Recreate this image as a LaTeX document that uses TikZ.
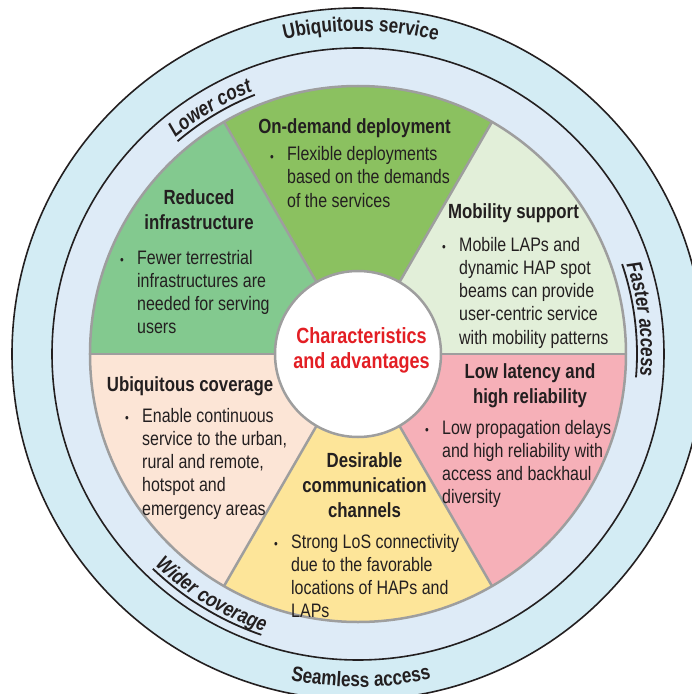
\documentclass[tikz,border=0pt]{standalone}
\usepackage{fontspec}
\usetikzlibrary{decorations.text}
\newfontfamily\narrowfont{Liberation Sans}[FakeStretch=0.82]
\definecolor{ink}{HTML}{231F20}
\definecolor{alarm}{HTML}{E31E24}
\definecolor{pieline}{HTML}{9E9E9E}
\definecolor{ringouter}{HTML}{D3ECF4}
\definecolor{ringinner}{HTML}{DEEBF7}
\definecolor{fillod}{HTML}{8BC160}
\definecolor{fillred}{HTML}{83C98F}
\definecolor{fillmob}{HTML}{E2EFD9}
\definecolor{fillubi}{HTML}{FCE5D6}
\definecolor{filldes}{HTML}{FDE599}
\definecolor{filllow}{HTML}{F6B0B8}

\begin{document}
\begin{tikzpicture}[x=1pt, y=1pt,
ring/.style={draw=ink, line width=1.6pt},
divider/.style={draw=pieline, line width=2.5pt},
hub/.style={circle, fill=white, draw=pieline, line width=2.5pt,
    minimum size=166pt, inner sep=0pt},
hub-text/.style={font=\narrowfont\bfseries\fontsize{22}{25}\selectfont,
    text=alarm, align=center, anchor=north, inner sep=0pt,
    execute at begin node=\strut},
sector-title/.style={font=\narrowfont\bfseries\fontsize{20.5}{25}\selectfont,
    text=ink, align=center, anchor=north, inner sep=0pt,
    execute at begin node=\strut},
sector-body/.style={font=\narrowfont\fontsize{19.5}{23.3}\selectfont,
    text=ink, align=left, anchor=north west, inner sep=0pt,
    execute at begin node=\strut},
sector-dot/.style={font=\narrowfont\fontsize{13}{13}\selectfont,
    text=ink, inner sep=0pt},
ring-label/.style={decorate, decoration={text along path, text align=center,
    text color=ink, text={|\narrowfont\bfseries\fontsize{21}{21}\selectfont|#1}}},
ring-label-it/.style={decorate, decoration={text along path, text align=center,
    text color=ink,
    text={|\narrowfont\bfseries\itshape\fontsize{21}{21}\selectfont|#1}}},
underline/.style={draw=ink, line width=1.8pt}
]

\useasboundingbox (-358,-340) rectangle (334,354);
\clip (-358,-340) rectangle (334,354);

\draw [ring, fill=ringouter] (0,0) circle [radius=346];
\draw [ring, fill=ringinner] (0,0) circle [radius=306];

\fill [fillmob] (0,0) -- (0:268) arc [start angle=0, end angle=60, radius=268] -- cycle;
\fill [fillod] (0,0) -- (60:268) arc [start angle=60, end angle=120, radius=268] -- cycle;
\fill [fillred] (0,0) -- (120:268) arc [start angle=120, end angle=180, radius=268] -- cycle;
\fill [fillubi] (0,0) -- (180:268) arc [start angle=180, end angle=240, radius=268] -- cycle;
\fill [filldes] (0,0) -- (240:268) arc [start angle=240, end angle=300, radius=268] -- cycle;
\fill [filllow] (0,0) -- (300:268) arc [start angle=300, end angle=360, radius=268] -- cycle;

\draw [divider] (0,0) circle [radius=268];
\draw [divider] (0,0) -- (0:268);
\draw [divider] (0,0) -- (60:268);
\draw [divider] (0,0) -- (120:268);
\draw [divider] (0,0) -- (180:268);
\draw [divider] (0,0) -- (240:268);
\draw [divider] (0,0) -- (300:268);

\node [hub] (hub) at (0,0) {};
\node [hub-text] (hub-label) at ([xshift=3.5pt, yshift=26.5pt]hub.center)
    {Characteristics\\and advantages};

\node [sector-title] (od-title) at (-3.5,238.5) {On-demand deployment};
\node [sector-body] (od-body) at (-71,207.8)
    {Flexible deployments\\based on the demands\\of the services};
\node [sector-dot] (od-dot) at ([xshift=-15pt, yshift=-11.8pt]od-body.north west) {\textbullet};

\node [sector-title] (red-title) at (-159,164.5) {Reduced\\infrastructure};
\node [sector-body] (red-body) at (-221,104.3)
    {Fewer terrestrial\\infrastructures are\\needed for serving\\users};
\node [sector-dot] (red-dot) at ([xshift=-15pt, yshift=-11.8pt]red-body.north west) {\textbullet};

\node [sector-title] (mob-title) at (155.5,153.5) {Mobility support};
\node [sector-body] (mob-body) at (101,117.3)
    {Mobile LAPs and\\dynamic HAP spot\\beams can provide\\user-centric service\\with mobility patterns};
\node [sector-dot] (mob-dot) at ([xshift=-15pt, yshift=-11.8pt]mob-body.north west) {\textbullet};

\node [sector-title] (ubi-title) at (-168,-19.5) {Ubiquitous coverage};
\node [sector-body] (ubi-body) at (-216,-53.7)
    {Enable continuous\\service to the urban,\\rural and remote,\\hotspot and\\emergency areas};
\node [sector-dot] (ubi-dot) at ([xshift=-15pt, yshift=-11.8pt]ubi-body.north west) {\textbullet};

\node [sector-title] (low-title) at (172,-9.5) {Low latency and\\high reliability};
\node [sector-body] (low-body) at (84,-65.7)
    {Low propagation delays\\and high reliability with\\access and backhaul\\diversity};
\node [sector-dot] (low-dot) at ([xshift=-15pt, yshift=-11.8pt]low-body.north west) {\textbullet};

\node [sector-title] (des-title) at (6.5,-98.2) {Desirable\\communication\\channels};
\node [sector-body] (des-body) at (-67,-179.7)
    {Strong LoS connectivity\\due to the favorable\\locations of HAPs and\\LAPs};
\node [sector-dot] (des-dot) at ([xshift=-15pt, yshift=-11.8pt]des-body.north west) {\textbullet};

\path [ring-label=Ubiquitous service] (119.5:323) arc [start angle=119.5, end angle=59.5, radius=323];
\path [ring-label=Seamless access] (240.5:333) arc [start angle=240.5, end angle=300.5, radius=333];

\path [ring-label-it=Lower cost] (151:283) arc [start angle=151, end angle=91, radius=283];
\draw [underline] (130.3:279) arc [start angle=130.3, end angle=111.7, radius=279];

\path [ring-label-it=Faster access] (37:283) arc [start angle=37, end angle=-23, radius=283];
\draw [underline] (18.8:279) arc [start angle=18.8, end angle=-4.8, radius=279];

\path [ring-label-it=Wider coverage] (208.7:293) arc [start angle=208.7, end angle=268.7, radius=293];
\draw [underline] (226.3:297) arc [start angle=226.3, end angle=251, radius=297];

\end{tikzpicture}
\end{document}
